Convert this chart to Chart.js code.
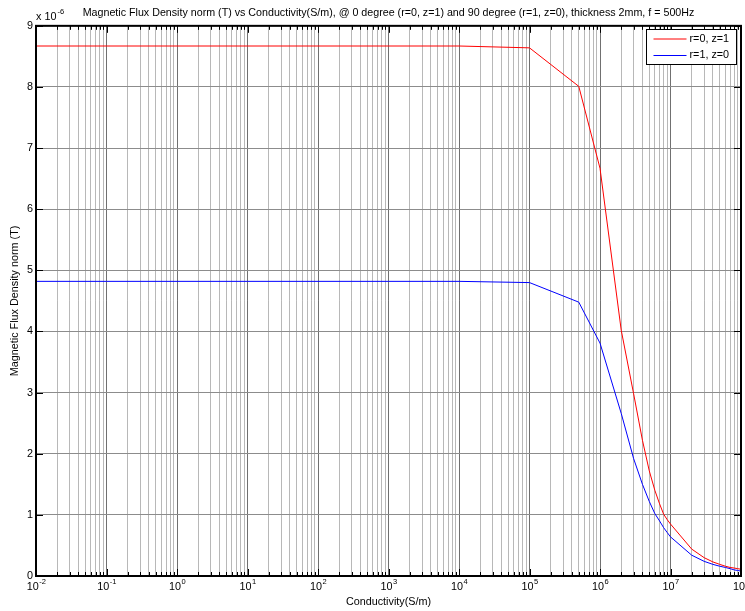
<!DOCTYPE html>
<html>
<head>
<meta charset="utf-8">
<script src="https://cdn.jsdelivr.net/npm/chart.js@4.4.1/dist/chart.umd.min.js"></script>
<style>
    html, body { margin: 0; padding: 0; background: #fff; }
    #wrap { width: 745px; height: 611px; }
</style>
</head>
<body>
<div id="wrap"><canvas id="fluxChart" width="745" height="611"></canvas></div>
<script>
// Conductividad (S/m)
const conductivity = [1e-2, 1e-1, 1, 10, 100, 1e3, 1e4, 1e5, 5e5, 1e6, 2e6, 3e6, 4e6, 5e6, 6e6, 7e6, 8e6, 9e6,
                      1e7, 2e7, 3e7, 4e7, 5e7, 6e7, 7e7, 8e7, 9e7, 1e8];
// |B| en unidades de 1e-6 T
const fluxR0Z1 = [8.67, 8.67, 8.67, 8.67, 8.67, 8.67, 8.67, 8.64, 8.01, 6.67, 4.02, 2.98, 2.22, 1.72, 1.40, 1.18, 1.01, 0.92,
                  0.85, 0.44, 0.30, 0.23, 0.19, 0.16, 0.14, 0.13, 0.12, 0.11];
const fluxR1Z0 = [4.82, 4.82, 4.82, 4.82, 4.82, 4.82, 4.82, 4.80, 4.48, 3.81, 2.66, 1.92, 1.50, 1.22, 1.02, 0.90, 0.79, 0.71,
                  0.64, 0.34, 0.24, 0.19, 0.16, 0.14, 0.12, 0.10, 0.09, 0.08];
const seriesLabels = ['r=0, z=1', 'r=1, z=0'];
const seriesColors = ['#ff0000', '#0000ff'];
const decadeExponents = ['-2', '-1', '0', '1', '2', '3', '4', '5', '6', '7', '8'];
const yTickValues = [0, 1, 2, 3, 4, 5, 6, 7, 8, 9];
const chartTitle = 'Magnetic Flux Density norm (T) vs Conductivity(S/m), @ 0 degree (r=0, z=1) and 90 degree (r=1, z=0), thickness 2mm, f = 500Hz';
const xTitle = 'Conductivity(S/m)';
const yTitle = 'Magnetic Flux Density norm (T)';
const yMultiplier = ['x 10', '-6'];

const FONT = '"Liberation Sans", Arial, Helvetica, sans-serif';
const FS = 10.8;

// ticks menores del eje log: 1..9 x 10^k
const xTickValues = [];
for (let k = -2; k < 8; k++) {
    for (let m = 1; m <= 9; m++) xTickValues.push(m * Math.pow(10, k));
}
xTickValues.push(1e8);

function isDecade(v) {
    const lg = Math.log10(v);
    return Math.abs(lg - Math.round(lg)) < 1e-9;
}

// base 10 con exponente elevado
function drawPower(ctx, exp, cx, baseY, expY, centered) {
    ctx.font = FS + 'px ' + FONT;
    const w1 = ctx.measureText('10').width;
    ctx.font = '7.5px ' + FONT;
    const w2 = ctx.measureText(exp).width;
    const x0 = centered ? cx - (w1 + w2) / 2 : cx;
    ctx.font = FS + 'px ' + FONT;
    ctx.fillText('10', x0, baseY);
    ctx.font = '7.5px ' + FONT;
    ctx.fillText(exp, x0 + w1 + 0.5, expY);
}

// marco, marcas interiores, etiquetas 10^n, multiplicador y leyenda estilo MATLAB
const matlabFrame = {
    id: 'matlabFrame',
    afterDatasetsDraw(chart) {
        const ctx = chart.ctx;
        const a = chart.chartArea;
        const xs = chart.scales.x;
        const ys = chart.scales.y;
        ctx.save();
        ctx.strokeStyle = '#000';
        ctx.lineWidth = 1;
        xTickValues.forEach(v => {
            const px = Math.round(xs.getPixelForValue(v)) + 0.5;
            const len = isDecade(v) ? 7 : 4;
            ctx.beginPath();
            ctx.moveTo(px, a.bottom); ctx.lineTo(px, a.bottom - len);
            ctx.moveTo(px, a.top); ctx.lineTo(px, a.top + len);
            ctx.stroke();
        });
        yTickValues.forEach(v => {
            const py = Math.round(ys.getPixelForValue(v)) + 0.5;
            ctx.beginPath();
            ctx.moveTo(a.left, py); ctx.lineTo(a.left + 7, py);
            ctx.moveTo(a.right, py); ctx.lineTo(a.right - 7, py);
            ctx.stroke();
        });
        ctx.lineWidth = 2;
        ctx.strokeRect(a.left, a.top, a.right - a.left, a.bottom - a.top);

        ctx.fillStyle = '#000';
        ctx.textBaseline = 'alphabetic';
        ctx.textAlign = 'left';

        // etiquetas del eje x
        decadeExponents.forEach(e => {
            const px = xs.getPixelForValue(Math.pow(10, Number(e)));
            drawPower(ctx, e, px, a.bottom + 13.5, a.bottom + 7.5, true);
        });

        // multiplicador del eje y
        ctx.font = FS + 'px ' + FONT;
        ctx.fillText(yMultiplier[0], a.left, 20);
        const w = ctx.measureText(yMultiplier[0]).width;
        ctx.font = '7.5px ' + FONT;
        ctx.fillText(yMultiplier[1], a.left + w + 1, 14);

        // leyenda
        const bx = 646.5, by = 29.5, bw = 90, bh = 35;
        ctx.fillStyle = '#fff';
        ctx.fillRect(bx, by, bw, bh);
        ctx.lineWidth = 1;
        ctx.strokeStyle = '#000';
        ctx.strokeRect(bx, by, bw, bh);
        ctx.font = FS + 'px ' + FONT;
        ctx.textBaseline = 'middle';
        chart.data.datasets.forEach((ds, i) => {
            const ly = by + 9.5 + i * 16.5;
            ctx.strokeStyle = ds.borderColor;
            ctx.beginPath();
            ctx.moveTo(bx + 7, ly); ctx.lineTo(bx + 40, ly);
            ctx.stroke();
            ctx.fillStyle = '#000';
            ctx.fillText(ds.label, bx + 43, ly);
        });
        ctx.restore();
    }
};

function buildDataset(values, i) {
    return {
        label: seriesLabels[i],
        data: conductivity.map((c, j) => ({ x: c, y: values[j] })),
        borderColor: seriesColors[i],
        backgroundColor: seriesColors[i],
        borderWidth: 1,
        pointRadius: 0,
        tension: 0,
        fill: false
    };
}

const fluxChart = new Chart(document.getElementById('fluxChart').getContext('2d'), {
    type: 'line',
    data: {
        datasets: [buildDataset(fluxR0Z1, 0), buildDataset(fluxR1Z0, 1)]
    },
    options: {
        responsive: false,
        animation: false,
        devicePixelRatio: 1,
        layout: { padding: { left: 0, right: 4, top: 0, bottom: 0 } },
        plugins: {
            legend: { display: false },
            tooltip: { enabled: false },
            title: {
                display: true,
                fullSize: false,
                text: chartTitle,
                color: '#000',
                font: { family: FONT, size: 10.7, weight: 'normal', lineHeight: 1.2 },
                padding: { top: 7, bottom: 6 }
            }
        },
        scales: {
            x: {
                type: 'logarithmic',
                min: 1e-2,
                max: 1e8,
                afterBuildTicks: scale => { scale.ticks = xTickValues.map(v => ({ value: v })); },
                afterFit: scale => { scale.height = 35; scale.paddingLeft = 0; scale.paddingRight = 0; },
                ticks: { display: false, autoSkip: false },
                grid: {
                    drawTicks: false,
                    lineWidth: 1,
                    color: ctx => (ctx.tick && isDecade(ctx.tick.value)) ? '#707070' : '#b8b8b8'
                },
                border: { display: false },
                title: {
                    display: true,
                    text: xTitle,
                    color: '#000',
                    font: { family: FONT, size: FS },
                    padding: { top: 0, bottom: 2 }
                }
            },
            y: {
                min: 0,
                max: 9,
                afterFit: scale => { scale.width = 36; },
                ticks: {
                    stepSize: 1,
                    padding: 3,
                    color: '#000',
                    font: { family: FONT, size: FS }
                },
                grid: { drawTicks: false, lineWidth: 1, color: '#8c8c8c' },
                border: { display: false },
                title: {
                    display: true,
                    text: yTitle,
                    color: '#000',
                    font: { family: FONT, size: FS },
                    padding: { top: 9, bottom: 0 }
                }
            }
        }
    },
    plugins: [matlabFrame]
});
</script>
</body>
</html>
